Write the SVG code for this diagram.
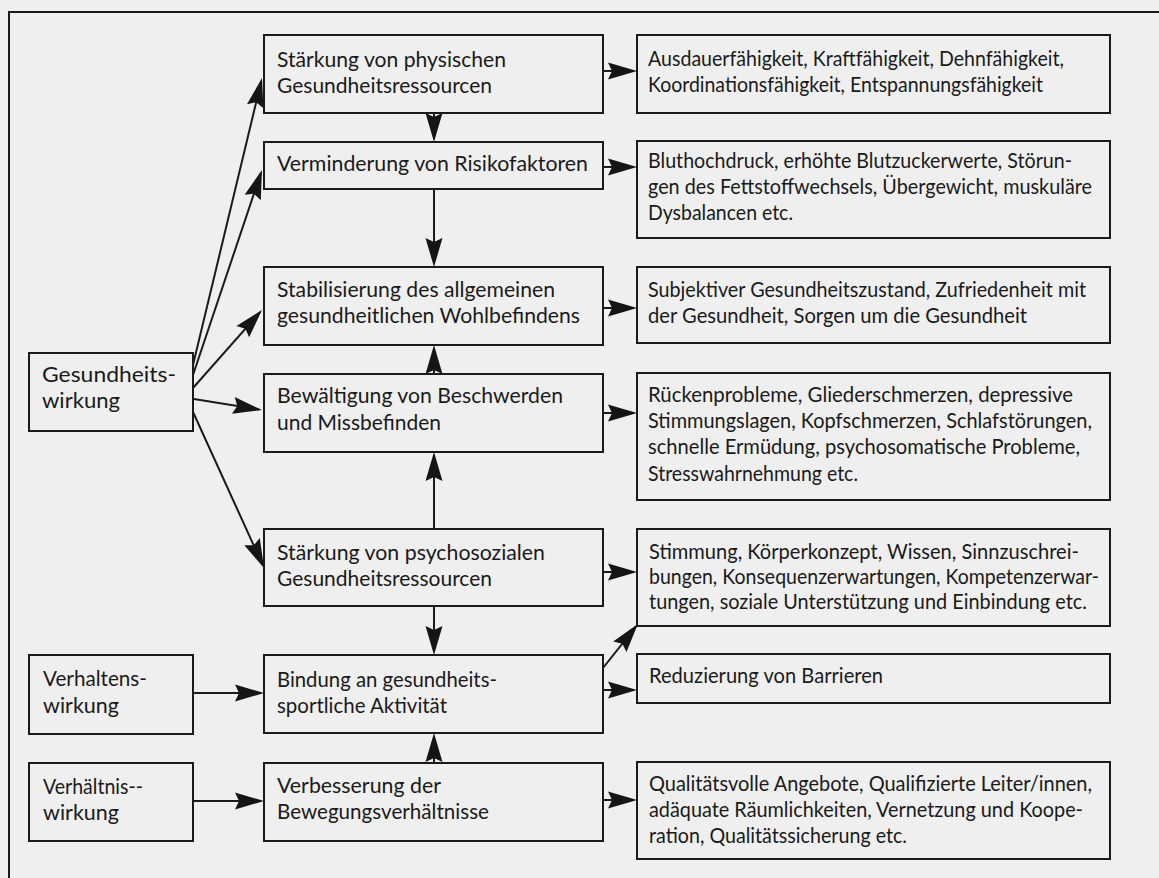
<svg xmlns="http://www.w3.org/2000/svg" width="1159" height="878" viewBox="0 0 1159 878">
<defs>
<marker id="ah" viewBox="-30 -10 36 20" refX="0" refY="0" markerWidth="36" markerHeight="20" markerUnits="userSpaceOnUse" orient="auto" overflow="visible">
<path d="M3,0 L-26,-8.5 L-22,0 L-26,8.5 Z" fill="#151515"/>
</marker>
</defs>
<style>
.bx{fill:none;stroke:#1a1a1a;stroke-width:2}
.t{font-family:Lato,"Liberation Sans",sans-serif;font-size:22px;fill:#1a1a1a}
.c{stroke:#1a1a1a;stroke-width:2;fill:none;marker-end:url(#ah)}
</style>
<rect x="0" y="0" width="1159" height="878" fill="#efefef"/>
<path d="M9,878 V12 H1159" fill="none" stroke="#1a1a1a" stroke-width="2"/>

<g id="gesundheitswirkung">
<rect class="bx" x="29" y="353" width="164" height="78"/>
<text class="t" x="42" y="382" textLength="134" lengthAdjust="spacingAndGlyphs">Gesundheits-</text>
<text class="t" x="42" y="408" textLength="78" lengthAdjust="spacingAndGlyphs">wirkung</text>
</g>
<g id="verhaltenswirkung">
<rect class="bx" x="29" y="655" width="164" height="79"/>
<text class="t" x="43" y="686" textLength="104" lengthAdjust="spacingAndGlyphs">Verhaltens-</text>
<text class="t" x="43" y="713" textLength="76" lengthAdjust="spacingAndGlyphs">wirkung</text>
</g>
<g id="verhaeltniswirkung">
<rect class="bx" x="29" y="763" width="164" height="78"/>
<text class="t" x="43" y="794" textLength="100" lengthAdjust="spacingAndGlyphs">Verhältnis--</text>
<text class="t" x="43" y="820" textLength="76" lengthAdjust="spacingAndGlyphs">wirkung</text>
</g>

<g id="m1">
<rect class="bx" x="264" y="35" width="339" height="78"/>
<text class="t" x="277" y="67" textLength="229" lengthAdjust="spacingAndGlyphs">Stärkung von physischen</text>
<text class="t" x="277" y="93" textLength="215" lengthAdjust="spacingAndGlyphs">Gesundheitsressourcen</text>
</g>
<g id="m2">
<rect class="bx" x="264" y="142" width="339" height="47"/>
<text class="t" x="277" y="171" textLength="311" lengthAdjust="spacingAndGlyphs">Verminderung von Risikofaktoren</text>
</g>
<g id="m3">
<rect class="bx" x="264" y="267" width="339" height="78"/>
<text class="t" x="277" y="297" textLength="278" lengthAdjust="spacingAndGlyphs">Stabilisierung des allgemeinen</text>
<text class="t" x="277" y="323" textLength="303" lengthAdjust="spacingAndGlyphs">gesundheitlichen Wohlbefindens</text>
</g>
<g id="m4">
<rect class="bx" x="264" y="374" width="339" height="78"/>
<text class="t" x="277" y="403" textLength="286" lengthAdjust="spacingAndGlyphs">Bewältigung von Beschwerden</text>
<text class="t" x="277" y="430" textLength="164" lengthAdjust="spacingAndGlyphs">und Missbefinden</text>
</g>
<g id="m5">
<rect class="bx" x="264" y="529" width="339" height="77"/>
<text class="t" x="277" y="560" textLength="268" lengthAdjust="spacingAndGlyphs">Stärkung von psychosozialen</text>
<text class="t" x="277" y="586" textLength="215" lengthAdjust="spacingAndGlyphs">Gesundheitsressourcen</text>
</g>
<g id="m6">
<rect class="bx" x="264" y="655" width="339" height="78"/>
<text class="t" x="277" y="687" textLength="220" lengthAdjust="spacingAndGlyphs">Bindung an gesundheits-</text>
<text class="t" x="277" y="713" textLength="170" lengthAdjust="spacingAndGlyphs">sportliche Aktivität</text>
</g>
<g id="m7">
<rect class="bx" x="264" y="763" width="339" height="78"/>
<text class="t" x="277" y="793" textLength="164" lengthAdjust="spacingAndGlyphs">Verbesserung der</text>
<text class="t" x="277" y="819" textLength="212" lengthAdjust="spacingAndGlyphs">Bewegungsverhältnisse</text>
</g>

<g id="r1">
<rect class="bx" x="637" y="35" width="473" height="78"/>
<text class="t" x="648" y="66" textLength="416" lengthAdjust="spacingAndGlyphs">Ausdauerfähigkeit, Kraftfähigkeit, Dehnfähigkeit,</text>
<text class="t" x="648" y="92" textLength="395" lengthAdjust="spacingAndGlyphs">Koordinationsfähigkeit, Entspannungsfähigkeit</text>
</g>
<g id="r2">
<rect class="bx" x="637" y="141" width="473" height="97"/>
<text class="t" x="648" y="168" textLength="424" lengthAdjust="spacingAndGlyphs">Bluthochdruck, erhöhte Blutzuckerwerte, Störun-</text>
<text class="t" x="648" y="194" textLength="444" lengthAdjust="spacingAndGlyphs">gen des Fettstoffwechsels, Übergewicht, muskuläre</text>
<text class="t" x="648" y="220" textLength="145" lengthAdjust="spacingAndGlyphs">Dysbalancen etc.</text>
</g>
<g id="r3">
<rect class="bx" x="637" y="267" width="473" height="76"/>
<text class="t" x="648" y="297" textLength="438" lengthAdjust="spacingAndGlyphs">Subjektiver Gesundheitszustand, Zufriedenheit mit</text>
<text class="t" x="648" y="323" textLength="379" lengthAdjust="spacingAndGlyphs">der Gesundheit, Sorgen um die Gesundheit</text>
</g>
<g id="r4">
<rect class="bx" x="637" y="373" width="473" height="127"/>
<text class="t" x="648" y="402" textLength="425" lengthAdjust="spacingAndGlyphs">Rückenprobleme, Gliederschmerzen, depressive</text>
<text class="t" x="648" y="428" textLength="444" lengthAdjust="spacingAndGlyphs">Stimmungslagen, Kopfschmerzen, Schlafstörungen,</text>
<text class="t" x="648" y="454" textLength="432" lengthAdjust="spacingAndGlyphs">schnelle Ermüdung, psychosomatische Probleme,</text>
<text class="t" x="648" y="481" textLength="210" lengthAdjust="spacingAndGlyphs">Stresswahrnehmung etc.</text>
</g>
<g id="r5">
<rect class="bx" x="637" y="529" width="473" height="97"/>
<text class="t" x="649" y="559" textLength="430" lengthAdjust="spacingAndGlyphs">Stimmung, Körperkonzept, Wissen, Sinnzuschrei-</text>
<text class="t" x="649" y="584" textLength="450" lengthAdjust="spacingAndGlyphs">bungen, Konsequenzerwartungen, Kompetenzerwar-</text>
<text class="t" x="649" y="609" textLength="438" lengthAdjust="spacingAndGlyphs">tungen, soziale Unterstützung und Einbindung etc.</text>
</g>
<g id="r6">
<rect class="bx" x="637" y="654" width="473" height="49"/>
<text class="t" x="649" y="683" textLength="234" lengthAdjust="spacingAndGlyphs">Reduzierung von Barrieren</text>
</g>
<g id="r7">
<rect class="bx" x="637" y="762" width="473" height="97"/>
<text class="t" x="649" y="791" textLength="443" lengthAdjust="spacingAndGlyphs">Qualitätsvolle Angebote, Qualifizierte Leiter/innen,</text>
<text class="t" x="649" y="817" textLength="434" lengthAdjust="spacingAndGlyphs">adäquate Räumlichkeiten, Vernetzung und Koope-</text>
<text class="t" x="649" y="843" textLength="258" lengthAdjust="spacingAndGlyphs">ration, Qualitätssicherung etc.</text>
</g>

<g id="connectors">
<line class="c" x1="193" y1="365" x2="261.3" y2="80.9"/>
<line class="c" x1="193" y1="375" x2="261" y2="172.8"/>
<line class="c" x1="193" y1="388" x2="260" y2="312.2"/>
<line class="c" x1="194" y1="399" x2="259" y2="409.5"/>
<line class="c" x1="193" y1="412" x2="262.8" y2="565.3"/>
<line class="c" x1="434" y1="113" x2="434" y2="139"/>
<line class="c" x1="434" y1="189" x2="434" y2="264"/>
<line class="c" x1="434" y1="374" x2="434" y2="348"/>
<line class="c" x1="434" y1="529" x2="434" y2="455"/>
<line class="c" x1="434" y1="606" x2="434" y2="652"/>
<line class="c" x1="434" y1="763" x2="434" y2="736"/>
<line class="c" x1="603" y1="71" x2="634" y2="71"/>
<line class="c" x1="603" y1="167" x2="634" y2="167"/>
<line class="c" x1="603" y1="308" x2="634" y2="308"/>
<line class="c" x1="603" y1="413" x2="634" y2="413"/>
<line class="c" x1="603" y1="572" x2="634" y2="572"/>
<line class="c" x1="603" y1="668" x2="636" y2="626.4"/>
<line class="c" x1="603" y1="690" x2="634" y2="690"/>
<line class="c" x1="603" y1="800" x2="634" y2="800"/>
<line class="c" x1="193" y1="693" x2="261" y2="693"/>
<line class="c" x1="193" y1="801" x2="261" y2="801"/>
</g>
</svg>
